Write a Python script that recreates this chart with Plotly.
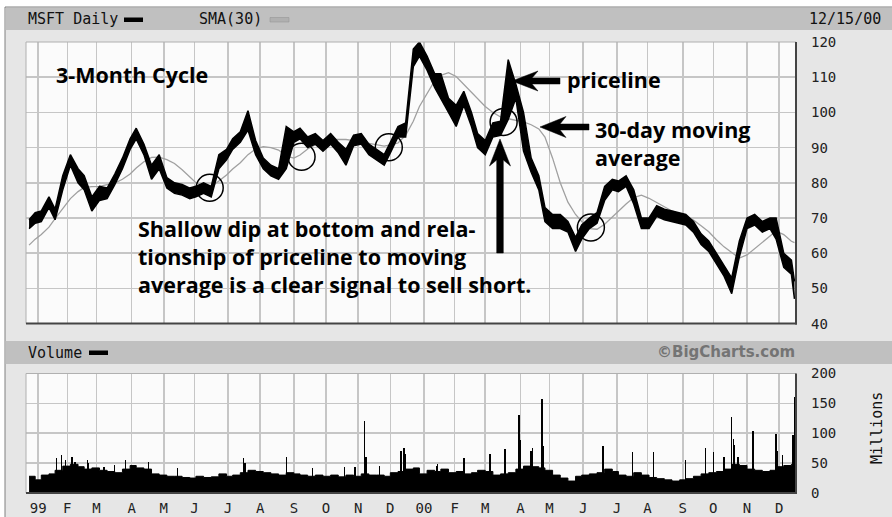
import plotly.graph_objects as go
import pandas as pd

# ---------------- data ----------------
# weekly sample dates (mid-week) plus the final session 12/15/00
week_dates = list(pd.date_range("1998-12-23", "2000-12-13", freq="W-WED").strftime("%Y-%m-%d")) + ["2000-12-15"]

price_high = [69.5, 71.5,
              72, 76, 72.5, 82,  88, 84, 82, 76,  79, 78.5, 82.5, 87, 92.5,  95.5, 91, 85, 88,
              81.5, 80, 79.5, 78.5,  79, 80, 79, 88, 89.5,  92.5, 94.5, 100.5, 92,  87, 85, 84, 96,
              94.5, 95.5, 93, 94, 92,  94, 91.5, 89.5, 93.5,  94, 91, 89.5, 88,  91.5, 96, 97, 118, 120,
              116, 111, 111, 104,  102, 106, 100, 94,  92, 97, 97.5, 115, 108,  100, 87, 82, 73,
              71, 71, 69, 64.5, 68,  70, 71.5, 79, 81,  80.5, 82, 78, 70,  70, 73.5, 72.5, 72, 71.5,
              71, 69, 65.5, 63.5,  60, 56.5, 53, 63.5,  70, 71, 69, 70, 70,  60, 58, 52]

price_low = [67, 68.5,
             69, 73, 69.5, 78,  85, 80, 78, 72,  75, 75.5, 79.5, 84, 89.5,  92.5, 88, 81, 84,
             78.5, 77, 76.5, 75.5,  76, 77, 76, 84, 86.5,  89.5, 91.5, 95, 88,  84, 82, 81, 84,
             91.5, 92.5, 90, 91, 89,  91, 88.5, 85, 90.5,  91, 88, 86.5, 85,  88.5, 93, 93, 113, 116,
             112, 107, 104, 100,  96, 102, 96, 90,  88, 93, 93.5, 98, 104,  89, 83, 78, 69,
             67, 67, 66, 60.5, 64,  67, 68.5, 75, 78,  77.5, 79, 74, 67,  67, 70.5, 69.5, 69, 68.5,
             68, 66, 62.5, 60.5,  57, 53.5, 48.5, 59,  67, 68, 66, 67, 64,  56, 54, 47]

sma30 = [62.3, 64,
         65.3, 67.4, 69.8, 72.8,  75.5, 77.5, 78.7, 78.9,  79, 79.5, 79.9, 81, 82.5,  84.2, 86, 87.2, 87.3,
         86.6, 85.5, 83.7, 81.7,  80, 79.2, 78.9, 80.5, 82.2,  83.9, 85.7, 88, 89.6,  90.3, 90, 89.3, 87.6,
         87, 87.9, 89.6, 90.8, 91.7,  92.3, 92.3, 92.3, 92,  91.6, 91.2, 90.7, 90.4,  90.8, 91.3, 93.5, 97.5, 101.7,
         105.5, 109, 110.5, 111.3,  110.2, 108, 105.7, 104,  101.7, 100, 98.7, 98.2, 97.7,  97.3, 96.5, 95.3, 93,
         87, 80, 74.5, 71, 69,  67, 66.8, 68.2, 70.3,  71.9, 74, 75.8, 76.5,  75.6, 74.4, 73.1, 72, 71.2,
         70.5, 69.4, 67.8, 66.1,  63.8, 61.8, 60.2, 58.6,  59.5, 61.3, 63.2, 65, 66.3,  65.3, 63.4, 63]

volume_week = [28, 22,
               30, 32, 38, 45,  48, 44, 40, 42,  38, 36, 34, 40, 46,  42, 40, 32, 30,
               28, 28, 26, 25,  28, 26, 27, 32, 28,  30, 34, 38, 36,  34, 32, 30, 34,
               32, 30, 28, 30, 28,  30, 27, 30, 28,  32, 30, 30, 28,  34, 36, 40, 42, 32,
               38, 36, 40, 34,  36, 32, 34, 38,  36, 30, 32, 34, 40,  45, 44, 42, 38,
               30, 25, 20, 28, 30,  32, 34, 40, 36,  30, 28, 34, 30,  26, 24, 22, 20, 22,
               24, 28, 32, 34,  36, 40, 48, 46,  40, 38, 36, 38, 44,  46, 48, 50]

spike_dates = ["1999-01-21", "1999-01-26", "1999-01-29", "1999-02-04", "1999-02-08", "1999-02-19",
               "1999-02-22", "1999-03-08", "1999-03-17", "1999-03-26", "1999-04-19", "1999-05-14",
               "1999-07-16", "1999-07-19", "1999-08-25", "1999-09-20", "1999-10-19", "1999-10-28",
               "1999-11-05", "1999-11-08", "1999-11-19", "1999-12-10", "1999-12-14", "1999-12-15",
               "2000-01-13", "2000-01-14", "2000-02-09", "2000-03-06", "2000-03-20", "2000-03-31",
               "2000-04-03", "2000-04-12", "2000-04-13", "2000-04-24", "2000-04-25", "2000-06-20",
               "2000-07-18", "2000-08-07", "2000-09-06", "2000-09-25", "2000-10-02", "2000-10-11",
               "2000-10-18", "2000-10-19", "2000-10-20", "2000-10-24", "2000-11-07", "2000-11-29",
               "2000-11-30", "2000-12-05", "2000-12-14", "2000-12-15"]
spike_volume = [58, 63, 55, 60, 52, 56,
                50, 44, 47, 56, 52, 42,
                58, 50, 60, 42, 44, 44,
                120, 60, 46, 70, 76, 65,
                45, 48, 58, 66, 73, 130,
                88, 70, 76, 158, 78, 78,
                68, 68, 56, 76, 69, 60,
                127, 91, 80, 60, 103, 98,
                71, 63, 97, 161]

circle_dates = ["1999-06-15", "1999-09-09", "1999-11-30", "2000-03-17", "2000-06-08"]
circle_prices = [78.6, 87.4, 90.1, 97.3, 67.3]

month_ticks = ["1999-01-04", "1999-02-01", "1999-03-01", "1999-04-01", "1999-05-03", "1999-06-01",
               "1999-07-01", "1999-08-02", "1999-09-01", "1999-10-01", "1999-11-01", "1999-12-01",
               "2000-01-03", "2000-02-01", "2000-03-01", "2000-04-03", "2000-05-01", "2000-06-01",
               "2000-07-03", "2000-08-01", "2000-09-01", "2000-10-02", "2000-11-01", "2000-12-01"]
month_labels = ["99", "F", "M", "A", "M", "J", "J", "A", "S", "O", "N", "D",
                "00", "F", "M", "A", "M", "J", "J", "A", "S", "O", "N", "D"]

holidays = ["1998-12-25", "1999-01-01", "1999-01-18", "1999-02-15", "1999-04-02", "1999-05-31",
            "1999-07-05", "1999-09-06", "1999-11-25", "1999-12-24", "2000-01-17", "2000-02-21",
            "2000-04-21", "2000-05-29", "2000-07-04", "2000-09-04", "2000-11-23"]

x_range = ["1998-12-21", "2000-12-18"]

# ---------------- geometry helpers (pixel -> paper) ----------------
W, H = 892, 517
L, R, T, B = 26, 796, 42, 493


def px(x):
    return (x - L) / (R - L)


def py(y):
    return (B - y) / (B - T)


PRICE_BOTTOM = 323.6
VOL_TOP = 373.5

MONO = "DejaVu Sans Mono"
BOLD = "Open Sans"

fig = go.Figure()

# price panel
fig.add_trace(go.Scatter(x=week_dates, y=sma30, mode="lines",
                         line=dict(color="#a0a0a0", width=1.3), hoverinfo="skip",
                         xaxis="x", yaxis="y"))
fig.add_trace(go.Scatter(x=week_dates, y=price_high, mode="lines",
                         line=dict(color="black", width=1.5), hoverinfo="skip",
                         xaxis="x", yaxis="y"))
fig.add_trace(go.Scatter(x=week_dates, y=price_low, mode="lines",
                         line=dict(color="black", width=1.5), fill="tonexty",
                         fillcolor="black", hoverinfo="skip", xaxis="x", yaxis="y"))
fig.add_trace(go.Scatter(x=circle_dates, y=circle_prices, mode="markers",
                         marker=dict(symbol="circle-open", size=27, color="black",
                                     line=dict(width=1.5, color="black")),
                         hoverinfo="skip", xaxis="x", yaxis="y"))

# volume panel
fig.add_trace(go.Scatter(x=week_dates, y=volume_week, mode="lines",
                         line=dict(color="black", width=1, shape="hv"), fill="tozeroy",
                         fillcolor="black", hoverinfo="skip", xaxis="x2", yaxis="y2"))
fig.add_trace(go.Bar(x=spike_dates, y=spike_volume, width=86400000 * 0.9,
                     marker=dict(color="black", line=dict(width=0)),
                     hoverinfo="skip", xaxis="x2", yaxis="y2"))

grid = "#c6c6c6"
rb = [dict(bounds=["sat", "mon"]), dict(values=holidays)]
common_x = dict(type="date", range=x_range, rangebreaks=rb, tickmode="array", tickvals=month_ticks,
                showgrid=True, gridcolor=grid, gridwidth=1.6, zeroline=False, showline=False,
                ticks="", automargin=False, fixedrange=True)
common_y = dict(side="right", tickmode="linear", showgrid=True, gridcolor=grid, gridwidth=1.6,
                zeroline=False, showline=False, ticks="", ticklabelstandoff=14, automargin=False,
                fixedrange=True, tickfont=dict(family=MONO, size=14, color="#222"))

fig.update_layout(
    width=W, height=H,
    margin=dict(l=L, r=W - R, t=T, b=H - B, pad=0, autoexpand=False),
    paper_bgcolor="white", plot_bgcolor="rgba(0,0,0,0)",
    showlegend=False, bargap=0,
    xaxis=dict(domain=[0, 1], anchor="y", showticklabels=False, **common_x),
    yaxis=dict(domain=[py(PRICE_BOTTOM), 1], anchor="x", range=[40, 120], tick0=40, dtick=10, **common_y),
    xaxis2=dict(domain=[0, 1], anchor="y2", ticktext=month_labels, ticklabelstandoff=5,
                tickfont=dict(family=MONO, size=14, color="#222"), **common_x),
    yaxis2=dict(domain=[0, py(VOL_TOP)], anchor="x2", range=[0, 200], tick0=0, dtick=50, **common_y),
)


def rect(x0, y0, x1, y1, fill, line=None, width=0, layer="below"):
    return dict(type="rect", xref="paper", yref="paper", x0=px(x0), x1=px(x1),
                y0=py(y1), y1=py(y0), fillcolor=fill, layer=layer,
                line=dict(color=line or fill, width=width))


def seg(x0, y0, x1, y1, color, width):
    return dict(type="line", xref="paper", yref="paper", x0=px(x0), y0=py(y0),
                x1=px(x1), y1=py(y1), line=dict(color=color, width=width), layer="above")


def arrow_path(tip, tail, head_len, head_half, shaft_half, notch):
    (tx, ty), (ex, ey) = tip, tail
    dx, dy = ex - tx, ey - ty
    n = (dx * dx + dy * dy) ** 0.5
    ux, uy = dx / n, dy / n          # from tip toward tail
    nx, ny = -uy, ux                 # normal
    pts = [
        (tx, ty),
        (tx + ux * head_len + nx * head_half, ty + uy * head_len + ny * head_half),
        (tx + ux * (head_len - notch) + nx * shaft_half, ty + uy * (head_len - notch) + ny * shaft_half),
        (ex + nx * shaft_half, ey + ny * shaft_half),
        (ex - nx * shaft_half, ey - ny * shaft_half),
        (tx + ux * (head_len - notch) - nx * shaft_half, ty + uy * (head_len - notch) - ny * shaft_half),
        (tx + ux * head_len - nx * head_half, ty + uy * head_len - ny * head_half),
    ]
    d = "M " + " L ".join(f"{px(x):.5f},{py(y):.5f}" for x, y in pts) + " Z"
    return dict(type="path", xref="paper", yref="paper", path=d, fillcolor="black",
                line=dict(color="black", width=0.5), layer="above")


shapes = [
    rect(5, 7, 900, 530, "#e6e6e6", line="#808080", width=1),
    rect(5.5, 8, 900, 30, "#c0c0c0"),
    rect(5.5, 341, 900, 364, "#c0c0c0"),
    rect(L, T, R, PRICE_BOTTOM, "#fbfbfb"),
    rect(L, VOL_TOP, R, B, "#fbfbfb"),
    # plot borders (light top/left, dark right/bottom)
    seg(L, T, R, T, "#b0b0b0", 1), seg(L, T, L, PRICE_BOTTOM, "#b0b0b0", 1),
    seg(R, T, R, PRICE_BOTTOM + 1, "#444", 2), seg(L, PRICE_BOTTOM, R + 1, PRICE_BOTTOM, "#444", 2),
    seg(L, VOL_TOP, R, VOL_TOP, "#b0b0b0", 1), seg(L, VOL_TOP, L, B, "#b0b0b0", 1),
    seg(R, VOL_TOP, R, B + 1, "#444", 2), seg(L, B, R + 1, B, "#444", 2),
    # legend swatches
    rect(124, 17.5, 143, 22, "black", layer="above"),
    rect(270, 17.5, 289, 22, "#b0b0b0", line="#909090", width=0.5, layer="above"),
    rect(89, 350.5, 108, 355, "black", layer="above"),
    # thick arrows
    arrow_path((512, 81), (560, 81), 26, 10, 3, 6),
    arrow_path((540, 127), (589, 127), 26, 10.5, 3, 6),
    arrow_path((500, 139), (500, 253), 27, 10.5, 3.3, 6),
]
fig.update_layout(shapes=shapes)


def text(x, y, s, size, family=MONO, color="#111", xanchor="left", bold=False, angle=0):
    return dict(x=px(x), y=py(y), xref="paper", yref="paper", text=(f"<b>{s}</b>" if bold else s),
                showarrow=False, xanchor=xanchor, yanchor="middle", align="left", textangle=angle,
                font=dict(family=family, size=size, color=color))


BIG = 21.5
annotations = [
    text(26, 19, "MSFT Daily", 15),
    text(197, 19, "SMA(30)", 15),
    text(883, 19, "12/15/00", 15, xanchor="right"),
    text(26, 353, "Volume", 15),
    text(797, 352, "©BigCharts.com", 15, family="DejaVu Sans", color="#747474", xanchor="right", bold=True),
    text(877, 428, "Millions", 15, xanchor="center", angle=-90),
    text(54, 75, "3-Month Cycle", BIG, family=BOLD, color="black", bold=True),
    text(565, 80, "priceline", BIG, family=BOLD, color="black", bold=True),
    text(593, 143, "30-day moving<br>average", BIG, family=BOLD, color="black", bold=True),
    text(136, 256, "Shallow dip at bottom and rela-<br>tionship of priceline to moving<br>"
                   "average is a clear signal to sell short.", BIG, family=BOLD, color="black", bold=True),
]
fig.update_layout(annotations=annotations)

fig.write_html("out.html", config={"displayModeBar": False, "staticPlot": True},
               post_script="document.body.style.margin='0';document.body.style.overflow='hidden';")
